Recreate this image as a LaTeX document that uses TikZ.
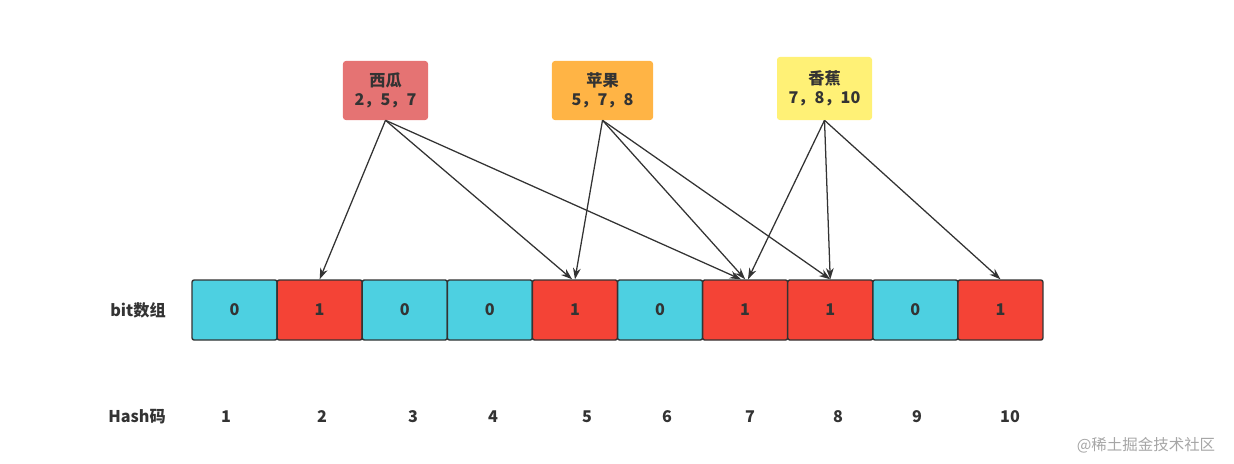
\documentclass[tikz,border=0pt]{standalone}
\usepackage{fontspec}
\setmainfont{Noto Sans CJK SC}
\usetikzlibrary{arrows.meta}
\definecolor{bitcyan}{HTML}{4DD0E1}
\definecolor{bitred}{HTML}{F44336}
\definecolor{xiguared}{HTML}{E57373}
\definecolor{pingguoorange}{HTML}{FFB445}
\definecolor{xiangjiaoyellow}{HTML}{FFF176}
\definecolor{ink}{HTML}{333333}

\begin{document}
\begin{tikzpicture}[x=0.025cm,y=-0.025cm,
  cell/.style={draw=ink, line width=1pt, rounded corners=1.5pt,
    minimum width=2.125cm, minimum height=1.5cm, inner sep=0pt,
    font=\bfseries\fontsize{11.5}{13}\selectfont, text=ink},
  bit0/.style={fill=bitcyan},
  bit1/.style={fill=bitred},
  fruit/.style={rounded corners=2pt, minimum height=1.475cm, inner sep=2pt,
    align=center, font=\bfseries\fontsize{11.5}{13.5}\selectfont, text=ink},
  lbl/.style={font=\bfseries\fontsize{11.5}{13}\selectfont, text=ink},
  arr/.style={draw=ink, line width=0.9pt, -{Stealth[length=8pt,width=5.5pt]}}]
\useasboundingbox (0,0) rectangle (1234,463);
% bit array
\foreach \i/\b in {1/0,2/1,3/0,4/0,5/1,6/0,7/1,8/1,9/0,10/1}
  \node[cell,bit\b] (c\i) at ({192+85.1*(\i-0.5)},310) {\b};
\node[lbl] (bitlbl) at (138,310) {bit数组};
% hash codes
\node[lbl] (hashlbl) at (137,417) {Hash码};
\foreach \i/\x in {1/226,2/322,3/413,4/493,5/587,6/667,7/750,8/838,9/917,10/1010}
  \node[lbl] (h\i) at (\x,417) {\i};
% fruits
\node[fruit,fill=xiguared,minimum width=2.125cm] (xigua) at (385.5,90.5) {西瓜\\2，5，7};
\node[fruit,fill=pingguoorange,minimum width=2.525cm] (pingguo) at (602.5,90.5) {苹果\\5，7，8};
\node[fruit,fill=xiangjiaoyellow,minimum width=2.375cm,minimum height=1.575cm] (xiangjiao) at (824.5,88.5) {香蕉\\7，8，10};
% hashes
\draw[arr] (xigua.south) -- (c2.north);
\draw[arr] (xigua.south) -- ([xshift=-2pt]c5.north);
\draw[arr] (xigua.south) -- ([xshift=-3pt]c7.north);
\draw[arr] (pingguo.south) -- (c5.north);
\draw[arr] (pingguo.south) -- (c7.north);
\draw[arr] (pingguo.south) -- (c8.north);
\draw[arr] (xiangjiao.south) -- ([xshift=2pt]c7.north);
\draw[arr] (xiangjiao.south) -- (c8.north);
\draw[arr] (xiangjiao.south) -- (c10.north);
% watermark
\node[text=black!35, font=\fontsize{11}{13}\selectfont] (mark) at (1146,445) {@稀土掘金技术社区};
\end{tikzpicture}
\end{document}
